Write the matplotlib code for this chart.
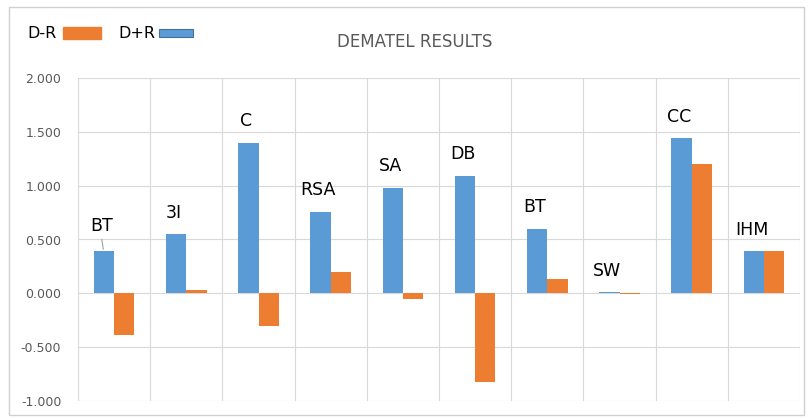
import matplotlib.pyplot as plt
from matplotlib.patches import Rectangle

categories = ["BT", "3I", "C", "RSA", "SA", "DB", "BT", "SW", "CC", "IHM"]
d_plus_r = [0.39, 0.55, 1.40, 0.76, 0.98, 1.09, 0.60, 0.01, 1.44, 0.39]
d_minus_r = [-0.39, 0.03, -0.30, 0.20, -0.05, -0.82, 0.13, -0.01, 1.20, 0.39]

blue = "#5B9BD5"
orange = "#ED7D31"
grid_col = "#D9D9D9"
text_col = "#595959"

fig = plt.figure(figsize=(8.08, 4.19), dpi=100)
ax = fig.add_axes([78 / 808, 18 / 419, 722 / 808, 323 / 419])

x = list(range(len(categories)))
w = 0.28
ax.bar([i - w / 2 for i in x], d_plus_r, width=w, color=blue, zorder=3)
ax.bar([i + w / 2 for i in x], d_minus_r, width=w, color=orange, zorder=3)

# category labels above each group
for i, name in enumerate(categories):
    top = max(d_plus_r[i], d_minus_r[i], 0)
    off = 0.24 if i == 0 else 0.2
    ax.text(i - 0.17, top + off, name, ha="center", va="center",
            fontsize=12.5, color="black", zorder=4)
# little leader line for the first label
ax.plot([-0.17, -0.15], [0.5, 0.41], color="#A0A0A0", lw=0.8, zorder=4)

ax.set_xlim(-0.5, len(categories) - 0.5)
ax.set_ylim(-1.0, 2.0)
ax.set_yticks([-1.0, -0.5, 0, 0.5, 1.0, 1.5, 2.0])
ax.set_yticklabels(["%.3f" % v for v in ax.get_yticks()])
ax.set_xticks([])
ax.tick_params(axis="y", length=0, labelsize=9, labelcolor=text_col, pad=12)

ax.set_axisbelow(True)
ax.grid(axis="y", color=grid_col, lw=0.8)
for b in range(len(categories) + 1):
    ax.axvline(b - 0.5, color=grid_col, lw=0.8, zorder=0)
for s in ax.spines.values():
    s.set_visible(False)

fig.text(415 / 808, 1 - 42 / 419, "DEMATEL RESULTS", ha="center", va="center",
         fontsize=12, color=text_col)

# legend drawn by hand: label then swatch
fig.text(27 / 808, 1 - 33 / 419, "D-R", ha="left", va="center", fontsize=11.5)
fig.patches.append(Rectangle((63 / 808, 1 - 39 / 419), 38 / 808, 12 / 419,
                             transform=fig.transFigure, color=orange))
fig.text(118 / 808, 1 - 33 / 419, "D+R", ha="left", va="center", fontsize=11.5)
fig.patches.append(Rectangle((159 / 808, 1 - 37 / 419), 34 / 808, 8 / 419,
                             transform=fig.transFigure, facecolor=blue,
                             edgecolor="#41719C", lw=0.8))

# chart area border
fig.patches.append(Rectangle((9 / 808, 4 / 419), 795 / 808, 408 / 419,
                             transform=fig.transFigure, fill=False,
                             edgecolor="#D0D0D0", lw=1))

fig.savefig("out.png", dpi=100)
